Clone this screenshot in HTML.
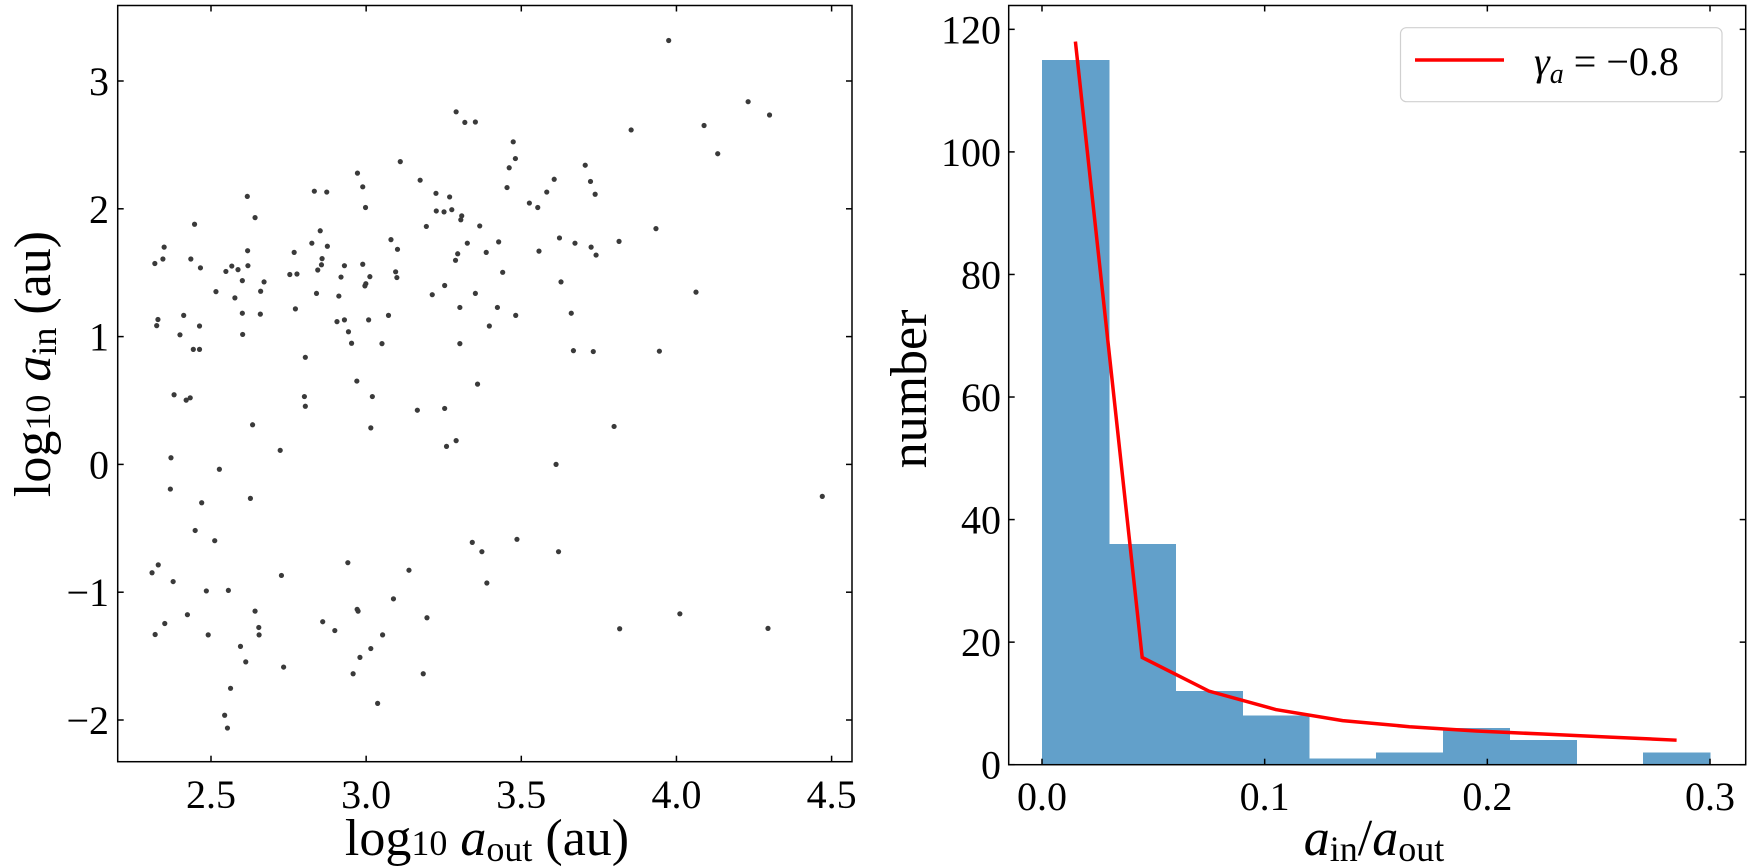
<!DOCTYPE html>
<html><head><meta charset="utf-8"><style>
html,body{margin:0;padding:0;background:#fff;}
svg{display:block;font-family:"Liberation Serif","DejaVu Serif",serif;}
</style></head><body>
<svg id="fig" width="1750" height="867" viewBox="0 0 1750 867" xmlns="http://www.w3.org/2000/svg">
<g id="left"></g>
<g id="right"></g>
</svg>
<script>
// ---- scatter data ----
const scatterX = [3.110,2.972,2.989,2.998,3.174,3.225,3.226,3.194,2.833,2.873,2.617,2.642,2.447,2.349,2.319,2.345,2.435,2.466,2.618,2.619,2.548,2.567,2.587,2.601,2.577,2.516,2.671,2.660,2.659,2.601,2.602,2.329,2.325,2.412,2.400,2.463,2.443,2.463,2.381,2.420,2.433,2.634,2.723,2.768,2.754,2.777,2.772,2.825,2.852,2.858,2.856,2.844,2.840,2.875,2.804,2.801,2.804,2.912,2.919,2.930,2.906,2.930,2.943,2.953,2.970,2.989,3.012,2.999,2.996,3.008,3.051,3.020,3.015,3.080,3.101,3.095,3.099,3.072,3.165,3.213,2.371,2.369,2.527,2.470,2.627,2.449,2.512,2.310,2.330,2.378,2.485,2.556,2.727,2.941,3.138,2.320,2.351,2.424,2.491,2.642,2.654,2.655,2.595,2.612,2.734,2.860,2.899,2.971,2.974,3.053,3.088,3.015,2.980,2.958,3.184,3.196,2.563,2.544,2.553,3.037,
3.975,4.231,4.300,3.290,3.318,3.352,3.854,4.089,4.133,3.474,3.481,3.461,3.454,3.706,3.723,3.738,3.606,3.582,3.526,3.553,3.269,3.251,3.276,3.308,3.305,3.366,3.326,3.295,3.288,3.387,3.427,3.440,3.557,3.623,3.673,3.725,3.741,3.815,3.934,3.628,3.253,3.352,3.302,3.423,3.482,3.397,3.661,4.063,3.302,3.668,3.732,3.945,3.359,3.253,3.259,3.290,3.799,3.612,3.342,3.373,3.486,3.620,3.389,4.011,3.817,4.295,4.470];
const scatterY = [2.369,2.279,2.172,2.010,2.224,2.121,1.983,1.862,2.138,2.131,2.097,1.931,1.879,1.700,1.572,1.607,1.607,1.538,1.672,1.555,1.510,1.552,1.524,1.438,1.303,1.352,1.428,1.355,1.176,1.183,1.017,1.134,1.086,1.166,1.014,1.083,0.900,0.900,0.545,0.503,0.521,0.310,0.110,1.659,1.486,1.490,1.217,1.731,1.828,1.610,1.562,1.521,1.338,1.707,0.838,0.531,0.455,1.317,1.466,1.555,1.117,1.131,1.038,0.948,0.652,1.566,1.469,1.414,1.397,1.131,0.945,0.531,0.286,1.759,1.683,1.507,1.462,1.166,0.424,1.328,0.052,-0.193,-0.038,-0.300,-0.266,-0.517,-0.597,-0.848,-0.786,-0.917,-0.990,-0.986,-0.869,-0.769,-0.828,-1.331,-1.245,-1.176,-1.334,-1.148,-1.276,-1.334,-1.424,-1.545,-1.586,-1.231,-1.300,-1.134,-1.148,-1.334,-1.052,-1.441,-1.510,-1.638,-1.638,-1.200,-1.752,-1.963,-2.063,-1.870,
3.317,2.838,2.734,2.759,2.676,2.679,2.617,2.652,2.431,2.524,2.393,2.321,2.166,2.341,2.214,2.114,2.231,2.131,2.045,2.010,2.093,1.976,1.993,1.945,1.914,1.866,1.731,1.648,1.597,1.659,1.741,1.503,1.669,1.772,1.731,1.700,1.638,1.745,1.845,1.428,1.400,1.338,1.228,1.228,1.166,1.083,1.183,1.348,0.945,0.890,0.883,0.886,0.628,0.438,0.141,0.186,0.297,0.000,-0.610,-0.683,-0.586,-0.683,-0.928,-1.169,-1.286,-1.283,-0.250];
const leftXTicks = [2.5,3.0,3.5,4.0,4.5];
const leftXTickLabels = ["2.5","3.0","3.5","4.0","4.5"];
const leftYTicks = [-2,-1,0,1,2,3];
const leftYTickLabels = ["\u22122","\u22121","0","1","2","3"];
// ---- histogram data ----
const binEdges = [0,0.03,0.06,0.09,0.12,0.15,0.18,0.21,0.24,0.27,0.30];
const binCounts = [115,36,12,8,1,2,6,4,0,2];
const fitX = [0.015,0.045,0.075,0.105,0.135,0.165,0.195,0.225,0.255,0.285];
const fitY = [118,17.5,12,9,7.2,6.2,5.5,5,4.5,4];
const rightXTicks = [0,0.1,0.2,0.3];
const rightXTickLabels = ["0.0","0.1","0.2","0.3"];
const rightYTicks = [0,20,40,60,80,100,120];
const rightYTickLabels = ["0","20","40","60","80","100","120"];

const NS="http://www.w3.org/2000/svg";
function mk(parent,tag,attrs,text){const e=document.createElementNS(NS,tag);for(const k in attrs)e.setAttribute(k,attrs[k]);if(text!==undefined)e.textContent=text;parent.appendChild(e);return e;}

// Left axes
const L={x0:117.7,x1:852,y0:5.5,y1:761.7};
const lx=v=>211+(v-2.5)*310.3;
const ly=v=>720-(v+2)*127.8;
const left=document.getElementById('left');
for(let i=0;i<scatterX.length;i++){
  const c=mk(left,'circle',{cx:lx(scatterX[i]),cy:ly(scatterY[i]),r:2.6,fill:'#3a3a3a'});
  
  
}
const lf=mk(left,'rect',{x:L.x0,y:L.y0,width:L.x1-L.x0,height:L.y1-L.y0,fill:'none',stroke:'#000','stroke-width':1.5});


leftXTicks.forEach((t,i)=>{const x=lx(t);
  mk(left,'line',{x1:x,x2:x,y1:L.y1,y2:L.y1-6,stroke:'#000','stroke-width':1.5});
  mk(left,'line',{x1:x,x2:x,y1:L.y0,y2:L.y0+6,stroke:'#000','stroke-width':1.5});
  const tx=mk(left,'text',{x:x,y:808,'font-size':40,'text-anchor':'middle'},leftXTickLabels[i]);
  
  
});
leftYTicks.forEach((t,i)=>{const y=ly(t);
  mk(left,'line',{x1:L.x0,x2:L.x0+6,y1:y,y2:y,stroke:'#000','stroke-width':1.5});
  mk(left,'line',{x1:L.x1,x2:L.x1-6,y1:y,y2:y,stroke:'#000','stroke-width':1.5});
  const tx=mk(left,'text',{x:109,y:y+14,'font-size':40,'text-anchor':'end'},leftYTickLabels[i]);
  
  
});
// Right axes
const R={x0:1008.7,x1:1745.7,y0:5.5,y1:764.7};
const rx=v=>1042+v*2226.7;
const ry=v=>764.7-v*6.128;
const right=document.getElementById('right');
binCounts.forEach((c,i)=>{
  const b=mk(right,'rect',{x:rx(binEdges[i]),y:ry(c),width:rx(binEdges[i+1])-rx(binEdges[i])+0.5,height:ry(0)-ry(c),fill:'#62a0ca','shape-rendering':'crispEdges'});
  
  
});
const pl=mk(right,'polyline',{points:fitX.map((x,i)=>rx(x)+','+ry(fitY[i])).join(' '),fill:'none',stroke:'#ff0000','stroke-width':3.5});


const rf=mk(right,'rect',{x:R.x0,y:R.y0,width:R.x1-R.x0,height:R.y1-R.y0,fill:'none',stroke:'#000','stroke-width':1.5});


rightXTicks.forEach((t,i)=>{const x=rx(t);
  mk(right,'line',{x1:x,x2:x,y1:R.y1,y2:R.y1-6,stroke:'#000','stroke-width':1.5});
  mk(right,'line',{x1:x,x2:x,y1:R.y0,y2:R.y0+6,stroke:'#000','stroke-width':1.5});
  const tx=mk(right,'text',{x:x,y:810,'font-size':40,'text-anchor':'middle'},rightXTickLabels[i]);
  
  
});
rightYTicks.forEach((t,i)=>{const y=ry(t);
  mk(right,'line',{x1:R.x0,x2:R.x0+6,y1:y,y2:y,stroke:'#000','stroke-width':1.5});
  mk(right,'line',{x1:R.x1,x2:R.x1-6,y1:y,y2:y,stroke:'#000','stroke-width':1.5});
  const tx=mk(right,'text',{x:1001,y:y+14,'font-size':40,'text-anchor':'end'},rightYTickLabels[i]);
  
  
});
</script>
<svg style="position:absolute;left:0;top:0" width="1750" height="867" xmlns="http://www.w3.org/2000/svg">
<g font-family="Liberation Serif, DejaVu Serif, serif">
<text x="487" y="855" font-size="52" text-anchor="middle">log<tspan font-size="36">10</tspan> <tspan font-style="italic">a</tspan><tspan font-size="36" dy="6">out</tspan><tspan dy="-6"> (au)</tspan></text>
<text transform="translate(50,364) rotate(-90)" font-size="52" text-anchor="middle">log<tspan font-size="36">10</tspan> <tspan font-style="italic">a</tspan><tspan font-size="36" dy="6">in</tspan><tspan dy="-6"> (au)</tspan></text>
<text x="1374" y="855" font-size="52" text-anchor="middle"><tspan font-style="italic">a</tspan><tspan font-size="36" dy="6">in</tspan><tspan dy="-6">/</tspan><tspan font-style="italic">a</tspan><tspan font-size="36" dy="6">out</tspan></text>
<text transform="translate(926,389) rotate(-90)" font-size="52" text-anchor="middle">number</text>
<g>
<rect x="1400.5" y="27.7" width="321.5" height="74" rx="6" fill="#fff" fill-opacity="0.8" stroke="#d0d0d0" stroke-width="1.2"/>
<line x1="1415" y1="60" x2="1504" y2="60" stroke="#ff0000" stroke-width="3.5"/>
<text x="1534" y="75" font-size="40"><tspan font-style="italic">γ</tspan><tspan font-style="italic" font-size="28" dy="8">a</tspan><tspan dy="-8"> = −0.8</tspan></text>
</g>
</g>
</svg>
</body></html>
